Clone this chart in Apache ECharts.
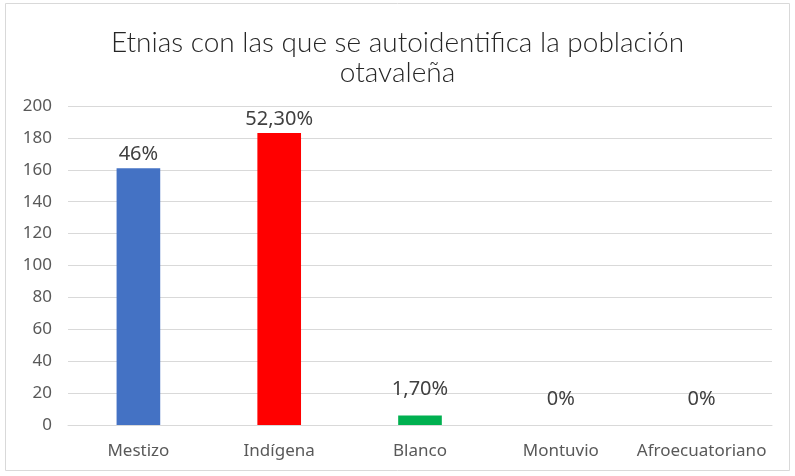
<!DOCTYPE html>
<html><head><meta charset="utf-8">
<script src="https://cdn.jsdelivr.net/npm/echarts@6/dist/echarts.min.js"></script>
<style>html,body{margin:0;padding:0;background:#fff}#c{width:795px;height:476px}</style>
</head><body><div id="c"></div>
<script>
const categories = ["Mestizo", "Indígena", "Blanco", "Montuvio", "Afroecuatoriano"];
const values = [161, 183, 6, 0, 0];
const pctLabels = ["46%", "52,30%", "1,70%", "0%", "0%"];

const colors = ["#4472C4", "#FF0000", "#00B050", "#A5A5A5", "#FFC000"];
const labelDistances = [4, 4, 16, 16, 16];
const yTicks = {min: 0, max: 200, interval: 20};

const chart = echarts.init(document.getElementById('c'));
chart.setOption({
  animation: false,
  graphic: [{type: 'rect', shape: {x: 5.5, y: 3.5, width: 784, height: 467}, style: {fill: 'none', stroke: '#D9D9D9', lineWidth: 1}, silent: true}],
  title: {
    text: 'Etnias con las que se autoidentifica la población\notavaleña',
    left: 'center', top: 23,
    textStyle: {fontFamily: 'Lato', fontWeight: 300, fontSize: 28, color: '#262626', lineHeight: 30}
  },
  grid: {left: 68, right: 23, top: 106, bottom: 51},
  xAxis: {
    type: 'category', data: categories,
    axisLine: {lineStyle: {color: '#D9D9D9'}}, axisTick: {show: false},
    axisLabel: {color: '#595959', fontFamily: 'Noto Sans', fontSize: 17, margin: 18, interval: 0, hideOverlap: false}
  },
  yAxis: {
    type: 'value', min: yTicks.min, max: yTicks.max, interval: yTicks.interval,
    axisLine: {show: false}, axisTick: {show: false},
    splitLine: {lineStyle: {color: '#D9D9D9'}},
    axisLabel: {color: '#595959', fontFamily: 'Noto Sans', fontSize: 17, margin: 16}
  },
  series: [{
    type: 'bar', barWidth: '31%',
    data: values.map((v, i) => ({value: v, itemStyle: {color: colors[i]}, label: {distance: labelDistances[i]}})),
    label: {show: true, position: 'top', color: '#404040', fontFamily: 'Noto Sans', fontSize: 20,
      formatter: p => pctLabels[p.dataIndex]}
  }]
});
</script></body></html>
